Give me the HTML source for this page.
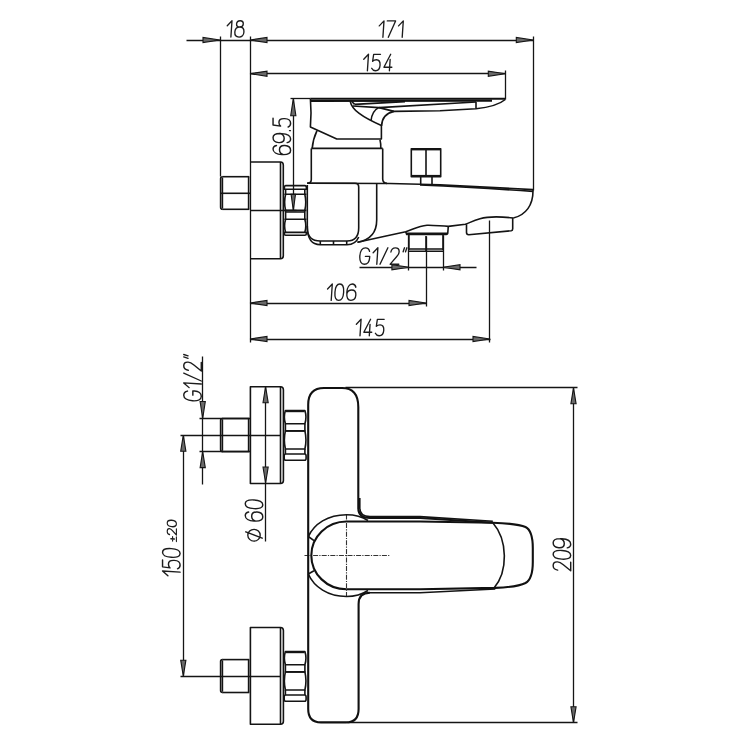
<!DOCTYPE html>
<html><head><meta charset="utf-8"><style>html,body{margin:0;padding:0;background:#fff;width:750px;height:750px;overflow:hidden}svg{display:block}</style></head><body>
<svg width="750" height="750" viewBox="0 0 750 750">
<rect width="750" height="750" fill="#fff"/>
<g fill="none" stroke="#151515" stroke-width="1.3">
<path d="M186.5,40.5 H533.5"/>
<path d="M250.5,73.5 H505.5"/>
<path d="M220.5,36.5 V176.5"/>
<path d="M250.5,36.5 V342.5"/>
<path d="M533.5,36.5 V190.5"/>
<path d="M505.5,70.5 V99.5"/>
<path d="M290.5,98.5 H310.5"/>
<path d="M293.5,98.5 V210.5"/>
<path d="M250.5,303.5 H426.5"/>
<path d="M426.5,236.5 V306.5"/>
<path d="M250.5,339.5 H490.5"/>
<path d="M489.5,220.5 V342.5"/>
<path d="M359.5,267.5 H476.5"/>
<path d="M408.5,235.5 V270.5"/>
<path d="M443.5,235.5 V270.5"/>
<path d="M250.5,210.5 H296.5"/>
<path d="M202.5,356.5 V484.5"/>
<path d="M199.5,418.5 H250.5"/>
<path d="M199.5,451.5 H250.5"/>
<path d="M180.5,435.5 H280.5"/>
<path d="M183.5,435.5 V676.5"/>
<path d="M180.5,676.5 H280.5"/>
<path d="M265.5,386.5 V541.5"/>
<path d="M345.5,387.5 H577.5"/>
<path d="M347.5,722.5 H577.5"/>
<path d="M573.5,387.5 V722.5"/>
</g>
<g fill="none" stroke="#333" stroke-width="1.1" stroke-dasharray="5,1.2,1.2,1.2">
<path d="M304.5,555.5 H389.5"/>
<path d="M346.5,514.5 V596.5"/>
</g>
<g fill="none" stroke="#141414" stroke-width="1.6" stroke-linejoin="round">
<path d="M222.3,176.7 H249.3"/>
<path d="M222.3,209.29999999999998 H249.3"/>
<path d="M222.6,176.7 Q220.6,176.7 220.6,178.7 V207.29999999999998 Q220.6,209.29999999999998 222.6,209.29999999999998"/>
<path d="M222.4,177.5 V208.49999999999997"/>
<path d="M248.6,176.7 V209.29999999999998"/>
<path d="M220.7,193.3 H250"/>
<path d="M250,162 H280.5 Q283.3,162 283.3,165 V255.7 Q283.3,258.7 280.5,258.7 H250"/>
<path d="M280.5,162 V258.7"/>
<path d="M285.6,185.6 H304.8 Q306.4,185.6 306.4,187.4 V189.2 H284.4 V187.4 Q284.4,185.6 285.6,185.6 Z"/>
<path d="M285.6,189.2 V194.2 M304.8,189.2 V194.2"/>
<path d="M284.4,194.2 H306.4 M284.4,210.4 H306.4"/>
<path d="M285.6,194.2 Q283.6,202.3 285.6,210.4 M304.8,194.2 Q306.8,202.3 304.8,210.4"/>
<path d="M285.6,210.4 V219.2 M304.8,210.4 V219.2"/>
<path d="M285.6,212.0 H304.8 M284.4,219.2 H306.4"/>
<path d="M285.6,219.2 Q283.6,225.79999999999998 285.6,232.39999999999998 M304.8,219.2 Q306.8,225.79999999999998 304.8,232.39999999999998"/>
<path d="M284.4,232.39999999999998 H306.4 V233.7 Q306.4,235.2 304.8,235.2 H285.6 Q284.4,235.2 284.4,233.7 Z"/>
<path d="M310.4,98.7 C311.2,108 311.2,118 310.4,126.9 L336.8,139 H381.4 V125.6"/>
<path d="M350.2,101.3 C352,110 362,117 381.4,125.6"/>
<path d="M351.8,101.5 L354.6,104.4"/>
<path d="M354.6,104.4 L405,101.6"/>
<path d="M353,106 L379,107.6 L476,102"/>
<path d="M379,107.6 L394,111.4 L440,110.7 L476,108.7 Q497,106.5 505.3,99.5"/>
<path d="M476,102 V108.7"/>
<path d="M371,120.8 Q372,111 378.6,107.6"/>
<path d="M381.6,126 Q382,114 394,111.4"/>
<path d="M317,130.6 Q313,139 312.2,148.4"/>
<path d="M380,139.8 Q381,144 380.8,148.4"/>
<path d="M311.3,148.4 H382.7"/>
<path d="M311.3,148.4 V179.5 Q311.3,183.2 307.2,183.2"/>
<path d="M382.7,148.4 V179 Q382.7,183.2 387,183.4"/>
<path d="M411.3,148.7 H440.7 V176.7 H411.3 Z"/>
<path d="M412,149.6 H440"/>
<path d="M426,148.7 V176.7"/>
<path d="M420.7,176.7 V184.2"/>
<path d="M432,176.7 V184.4"/>
<path d="M307.2,183.2 L390,183.5 L440,184.7 L533,189.6"/>
<path d="M420,184.9 Q480,187.6 533,191.4"/>
<path d="M412,175.7 H440"/>
<path d="M533,189.6 V191 C533,205 526,215 513.3,218"/>
<path d="M513.3,218 C500,216.5 488,216.5 480,218.7 C474,220.5 470,222.5 465.4,224.3 L448.3,226.4 C440,226 432,225 427,225.3 C418,226 412,230 405.7,231.7 C390,235 372,239 357.5,242.3"/>
<path d="M307.2,183.2 H355 Q358.7,183.2 358.7,187 V228 C358.7,237.5 354,241 347,241 H320.3 C312,241 307.3,237 307.3,228 V185"/>
<path d="M307.3,226 C307.3,240 312,244.7 320.3,244.7 H347 C353,244.7 356.5,242.5 358.7,237"/>
<path d="M320.3,241 V244.7 M333.5,241 V244.7 M346.7,241 V244.7"/>
<path d="M376.7,183.3 V220 C376.7,232 370,240 357.5,242.3"/>
<path d="M405.7,231.7 L406.7,234.4 H446.2 Q447.8,234.4 447.8,232.5 L448.3,226.4"/>
<path d="M407,233.2 H447"/>
<path d="M408.9,235 V250 M443,235 V250"/>
<path d="M408.9,249 H443 M408.9,251.3 H443"/>
<path d="M426,236 V252"/>
<path d="M466.5,224.3 V232.5 Q466.5,234.7 468.7,234.7 L511.3,230.7 Q512.7,230.5 512.7,228.7 V218"/>
<path d="M222.3,418.5 H249.3"/>
<path d="M222.3,451.6 H249.3"/>
<path d="M222.6,418.5 Q220.6,418.5 220.6,420.5 V449.6 Q220.6,451.6 222.6,451.6"/>
<path d="M222.4,419.3 V450.8"/>
<path d="M248.6,418.5 V451.6"/>
<path d="M222.3,659.6 H249.3"/>
<path d="M222.3,692.5 H249.3"/>
<path d="M222.6,659.6 Q220.6,659.6 220.6,661.6 V690.5 Q220.6,692.5 222.6,692.5"/>
<path d="M222.4,660.4 V691.7"/>
<path d="M248.6,659.6 V692.5"/>
<path d="M250.4,386.7 H280.5 Q283.4,386.7 283.4,389.7 V480.5 Q283.4,483.5 280.5,483.5 H250.4 Z"/>
<path d="M280.5,386.7 V483.5"/>
<path d="M250.4,627.5 H280.5 Q283.4,627.5 283.4,630.5 V721.3 Q283.4,724.3 280.5,724.3 H250.4 Z"/>
<path d="M280.5,627.5 V724.3"/>
<path d="M285.4,410.6 H304.9 Q307.0,417.20000000000005 304.9,423.8 H285.4 Q283.3,417.20000000000005 285.4,410.6 Z"/>
<path d="M285.9,411.40000000000003 H304.4"/>
<path d="M285.4,423.8 V430.90000000000003 H304.9 V423.8"/>
<path d="M285.4,430.90000000000003 H304.9 Q307.0,439.95000000000005 304.9,449.0 H285.4 Q283.3,439.95000000000005 285.4,430.90000000000003 Z"/>
<path d="M285.4,449.0 V454.0 M304.9,449.0 V454.0"/>
<path d="M285.7,454.0 H304.6 Q306.1,454.0 306.1,456.0 V458.20000000000005 Q306.1,460.20000000000005 304.6,460.20000000000005 H285.7 Q284.2,460.20000000000005 284.2,458.20000000000005 V456.0 Q284.2,454.0 285.7,454.0 Z"/>
<path d="M285.4,651.6 H304.9 Q307.0,658.2 304.9,664.8000000000001 H285.4 Q283.3,658.2 285.4,651.6 Z"/>
<path d="M285.9,652.4 H304.4"/>
<path d="M285.4,664.8000000000001 V671.9 H304.9 V664.8000000000001"/>
<path d="M285.4,671.9 H304.9 Q307.0,680.95 304.9,690.0 H285.4 Q283.3,680.95 285.4,671.9 Z"/>
<path d="M285.4,690.0 V695.0 M304.9,690.0 V695.0"/>
<path d="M285.7,695.0 H304.6 Q306.1,695.0 306.1,697.0 V699.2 Q306.1,701.2 304.6,701.2 H285.7 Q284.2,701.2 284.2,699.2 V697.0 Q284.2,695.0 285.7,695.0 Z"/>
<path d="M359.8,498 V508 Q359.8,516.6 370,516.6 H420 L492.8,521.2"/>
<path d="M492.8,522.7 C508,540 508,572 494,588"/>
<path d="M308.3,536.7 C314,524 328,514.7 346.5,514.7 C356,514.7 362,516.5 368,520.5"/>
<path d="M308.3,574 C314,587 328,596.5 346.5,596.5 C356,596.5 362,594.5 368,590.5"/>
<path d="M308.3,536.5 L314,540.7"/>
<path d="M308.3,574 L314,570.7"/>
<path d="M370,592.7 H420 L495.3,589"/>
</g>
<g fill="none" stroke="#111" stroke-width="2.1" stroke-linejoin="round">
<path d="M310.4,98.8 H505.3"/>
<path d="M311,101 L492,100.6"/>
<path d="M308.2,709 V404.7 Q308.2,388 324,388 H342 Q358.3,388 358.3,407 V508 Q358.3,518 370,518 H420 L492.8,522.7"/>
<path d="M358.6,709 V604 Q358.6,592.7 370,592.7"/>
<path d="M308.2,709 Q308.2,722.4 321,722.4 H346 Q358.6,722.4 358.6,709"/>
<path d="M346.5,521.5 H420 L492.8,522.7 C511,523.4 520,524.5 525.5,527 C531,529.8 532.8,537 532.8,548 V562 C532.8,573 531,580 525.5,583 C520,585.8 510,587.3 495.3,587.9 L420,589.3 H346.5"/>
<path d="M346.5,521.5 A35.2,33.9 0 0 0 346.5,589.3"/>
</g>
<g fill="#6a6a6a" stroke="#151515" stroke-width="1.1" stroke-linejoin="miter">
<path d="M220,40 L203,37.4 L203,42.6 Z"/>
<path d="M250,40 L267,37.4 L267,42.6 Z"/>
<path d="M533.3,40 L516.3,37.4 L516.3,42.6 Z"/>
<path d="M250,73.7 L267,71.10000000000001 L267,76.3 Z"/>
<path d="M505.3,73.7 L488.3,71.10000000000001 L488.3,76.3 Z"/>
<path d="M293.3,98.7 L290.7,115.7 L295.90000000000003,115.7 Z"/>
<path d="M293.3,210.4 L291.1,194.4 L295.5,194.4 Z"/>
<path d="M250,303 L267,300.4 L267,305.6 Z"/>
<path d="M426,303 L409,300.4 L409,305.6 Z"/>
<path d="M250,339 L267,336.4 L267,341.6 Z"/>
<path d="M490,339 L473,336.4 L473,341.6 Z"/>
<path d="M408.9,267.3 L391.9,264.7 L391.9,269.90000000000003 Z"/>
<path d="M443,267.3 L460,264.7 L460,269.90000000000003 Z"/>
<path d="M202.7,418.5 L200.1,401.5 L205.29999999999998,401.5 Z"/>
<path d="M202.7,451.6 L200.1,467.6 L205.29999999999998,467.6 Z"/>
<path d="M183.3,435.2 L180.70000000000002,451.2 L185.9,451.2 Z"/>
<path d="M183.3,676.2 L180.70000000000002,660.2 L185.9,660.2 Z"/>
<path d="M265.6,386.7 L263.0,402.7 L268.20000000000005,402.7 Z"/>
<path d="M265.6,483 L263.0,467 L268.20000000000005,467 Z"/>
<path d="M573.5,387.8 L570.9,403.8 L576.1,403.8 Z"/>
<path d="M573.5,722.7 L570.9,706.7 L576.1,706.7 Z"/>
</g>
<g transform="translate(226.5,37.1) scale(1.0,1.0) skewX(-3.8)" fill="none" stroke="#1c1c1c" stroke-width="1.35" stroke-linecap="round" stroke-linejoin="round"><path transform="translate(0.00,0)" d="M0,-11.4 L4.4,-16.4 V0"/><path transform="translate(8.00,0)" d="M4.55,-16.4 C6.5,-16.4 7.9,-15.1 7.9,-13.2 C7.9,-11.3 6.5,-10.1 4.55,-10.1 C2.6,-10.1 1.2,-11.3 1.2,-13.2 C1.2,-15.1 2.6,-16.4 4.55,-16.4 Z M4.55,-10.1 C7.3,-10.1 9.1,-8.1 9.1,-5.05 C9.1,-2 7.3,0 4.55,0 C1.8,0 0,-2 0,-5.05 C0,-8.1 1.8,-10.1 4.55,-10.1 Z"/></g>
<g transform="translate(378.5,37.3) scale(1.0,1.0) skewX(-3.8)" fill="none" stroke="#1c1c1c" stroke-width="1.35" stroke-linecap="round" stroke-linejoin="round"><path transform="translate(0.00,0)" d="M0,-11.4 L4.4,-16.4 V0"/><path transform="translate(7.70,0)" d="M0,-16.4 H8.3 L2.1,0"/><path transform="translate(19.30,0)" d="M0,-11.4 L4.4,-16.4 V0"/></g>
<g transform="translate(363,70.7) scale(1.0,1.0) skewX(-3.8)" fill="none" stroke="#1c1c1c" stroke-width="1.35" stroke-linecap="round" stroke-linejoin="round"><path transform="translate(0.00,0)" d="M0,-11.4 L4.4,-16.4 V0"/><path transform="translate(8.40,0)" d="M8,-16.4 H1.2 L0.6,-9.4 C1.6,-10.5 2.9,-10.9 4.2,-10.9 C6.8,-10.9 8.3,-8.9 8.3,-5.5 C8.3,-2.1 6.7,0 4.1,0 C2.4,0 1,-0.7 0.1,-2.4"/><path transform="translate(20.70,0)" d="M5.9,-16.4 L0,-3.5 H7.9 M5.7,-11.2 V0"/></g>
<g transform="translate(326.8,300.4) scale(1.0,1.0) skewX(-3.8)" fill="none" stroke="#1c1c1c" stroke-width="1.35" stroke-linecap="round" stroke-linejoin="round"><path transform="translate(0.00,0)" d="M0,-11.4 L4.4,-16.4 V0"/><path transform="translate(7.60,0)" d="M4.35,-16.4 C7.3,-16.4 8.7,-13.2 8.7,-8.2 C8.7,-3.2 7.3,0 4.35,0 C1.4,0 0,-3.2 0,-8.2 C0,-13.2 1.4,-16.4 4.35,-16.4 Z"/><path transform="translate(19.50,0)" d="M8.7,-13.2 C8.1,-15.3 6.7,-16.4 4.9,-16.4 C1.9,-16.4 0,-13.2 0,-8.2 C0,-2.8 1.8,0 4.6,0 C7.4,0 9.2,-2.2 9.2,-5.3 C9.2,-8.3 7.4,-10.4 4.7,-10.4 C2.4,-10.4 0.6,-8.8 0.1,-6.6"/></g>
<g transform="translate(355.6,335.7) scale(1.0,1.0) skewX(-3.8)" fill="none" stroke="#1c1c1c" stroke-width="1.35" stroke-linecap="round" stroke-linejoin="round"><path transform="translate(0.00,0)" d="M0,-11.4 L4.4,-16.4 V0"/><path transform="translate(8.00,0)" d="M5.9,-16.4 L0,-3.5 H7.9 M5.7,-11.2 V0"/><path transform="translate(19.50,0)" d="M8,-16.4 H1.2 L0.6,-9.4 C1.6,-10.5 2.9,-10.9 4.2,-10.9 C6.8,-10.9 8.3,-8.9 8.3,-5.5 C8.3,-2.1 6.7,0 4.1,0 C2.4,0 1,-0.7 0.1,-2.4"/></g>
<g transform="translate(359.3,264.2) scale(1.0,1.0) skewX(-3.8)" fill="none" stroke="#1c1c1c" stroke-width="1.35" stroke-linecap="round" stroke-linejoin="round"><path transform="translate(0.00,0)" d="M9.4,-12.9 C8.8,-15.2 7.2,-16.4 5,-16.4 C2,-16.4 0,-13.4 0,-8.2 C0,-3 2,0 5,0 C8,0 9.9,-2.6 9.9,-6.2 V-7.9 H5.6"/><path transform="translate(13.10,0)" d="M0,-11.4 L4.4,-16.4 V0"/><path transform="translate(20.70,0)" d="M0,0 L6.8,-16.4"/><path transform="translate(30.70,0)" d="M0.1,-12.2 C0.4,-14.9 2.1,-16.4 4.3,-16.4 C6.6,-16.4 8.3,-14.8 8.3,-12.3 C8.3,-10.3 7.2,-8.7 5.7,-6.9 L0.2,0 H8.8"/><path transform="translate(42.70,0)" d="M1.4,-16.4 L0.3,-12.4 M3.8,-16.4 L2.7,-12.4"/></g>
<g transform="translate(290.6,155.1) rotate(-90) scale(1.0,1.07) skewX(-3.8)" fill="none" stroke="#1c1c1c" stroke-width="1.35" stroke-linecap="round" stroke-linejoin="round"><path transform="translate(0.00,0)" d="M8.7,-13.2 C8.1,-15.3 6.7,-16.4 4.9,-16.4 C1.9,-16.4 0,-13.2 0,-8.2 C0,-2.8 1.8,0 4.6,0 C7.4,0 9.2,-2.2 9.2,-5.3 C9.2,-8.3 7.4,-10.4 4.7,-10.4 C2.4,-10.4 0.6,-8.8 0.1,-6.6"/><path transform="translate(11.80,0)" d="M0.5,-3.2 C1.1,-1.1 2.5,0 4.3,0 C7.3,0 9.2,-3.2 9.2,-8.2 C9.2,-13.6 7.4,-16.4 4.6,-16.4 C1.8,-16.4 0,-14.2 0,-11.1 C0,-8.1 1.8,-6 4.5,-6 C6.8,-6 8.6,-7.6 9.1,-9.8"/><path transform="translate(23.60,0)" d="M0.8,-1 L0.8,-0.2"/><path transform="translate(27.80,0)" d="M8,-16.4 H1.2 L0.6,-9.4 C1.6,-10.5 2.9,-10.9 4.2,-10.9 C6.8,-10.9 8.3,-8.9 8.3,-5.5 C8.3,-2.1 6.7,0 4.1,0 C2.4,0 1,-0.7 0.1,-2.4"/></g>
<g transform="translate(570.7,571) rotate(-90) scale(1.0,1.07) skewX(-3.8)" fill="none" stroke="#1c1c1c" stroke-width="1.35" stroke-linecap="round" stroke-linejoin="round"><path transform="translate(0.00,0)" d="M0.1,-12.2 C0.4,-14.9 2.1,-16.4 4.3,-16.4 C6.6,-16.4 8.3,-14.8 8.3,-12.3 C8.3,-10.3 7.2,-8.7 5.7,-6.9 L0.2,0 H8.8"/><path transform="translate(11.30,0)" d="M4.35,-16.4 C7.3,-16.4 8.7,-13.2 8.7,-8.2 C8.7,-3.2 7.3,0 4.35,0 C1.4,0 0,-3.2 0,-8.2 C0,-13.2 1.4,-16.4 4.35,-16.4 Z"/><path transform="translate(22.50,0)" d="M0.5,-3.2 C1.1,-1.1 2.5,0 4.3,0 C7.3,0 9.2,-3.2 9.2,-8.2 C9.2,-13.6 7.4,-16.4 4.6,-16.4 C1.8,-16.4 0,-14.2 0,-11.1 C0,-8.1 1.8,-6 4.5,-6 C6.8,-6 8.6,-7.6 9.1,-9.8"/></g>
<g transform="translate(262.8,521.6) rotate(-90) scale(1.0,1.07) skewX(-3.8)" fill="none" stroke="#1c1c1c" stroke-width="1.35" stroke-linecap="round" stroke-linejoin="round"><path transform="translate(0.00,0)" d="M8.7,-13.2 C8.1,-15.3 6.7,-16.4 4.9,-16.4 C1.9,-16.4 0,-13.2 0,-8.2 C0,-2.8 1.8,0 4.6,0 C7.4,0 9.2,-2.2 9.2,-5.3 C9.2,-8.3 7.4,-10.4 4.7,-10.4 C2.4,-10.4 0.6,-8.8 0.1,-6.6"/><path transform="translate(12.40,0)" d="M4.35,-16.4 C7.3,-16.4 8.7,-13.2 8.7,-8.2 C8.7,-3.2 7.3,0 4.35,0 C1.4,0 0,-3.2 0,-8.2 C0,-13.2 1.4,-16.4 4.35,-16.4 Z"/></g>
<g transform="translate(180.1,576.5) rotate(-90) scale(1.0,1.07) skewX(-3.8)" fill="none" stroke="#1c1c1c" stroke-width="1.35" stroke-linecap="round" stroke-linejoin="round"><path transform="translate(0.00,0)" d="M0,-11.4 L4.4,-16.4 V0"/><path transform="translate(7.40,0)" d="M8,-16.4 H1.2 L0.6,-9.4 C1.6,-10.5 2.9,-10.9 4.2,-10.9 C6.8,-10.9 8.3,-8.9 8.3,-5.5 C8.3,-2.1 6.7,0 4.1,0 C2.4,0 1,-0.7 0.1,-2.4"/><path transform="translate(18.70,0)" d="M4.35,-16.4 C7.3,-16.4 8.7,-13.2 8.7,-8.2 C8.7,-3.2 7.3,0 4.35,0 C1.4,0 0,-3.2 0,-8.2 C0,-13.2 1.4,-16.4 4.35,-16.4 Z"/></g>
<g transform="translate(176.4,541.4) rotate(-90) scale(0.72,0.56) skewX(-3.8)" fill="none" stroke="#1c1c1c" stroke-width="2.0161290322580645" stroke-linecap="round" stroke-linejoin="round"><path transform="translate(0.00,0)" d="M3,-10 V-3.5 M0,-6.8 H6 M0,0 H6"/><path transform="translate(8.60,0)" d="M0.1,-12.2 C0.4,-14.9 2.1,-16.4 4.3,-16.4 C6.6,-16.4 8.3,-14.8 8.3,-12.3 C8.3,-10.3 7.2,-8.7 5.7,-6.9 L0.2,0 H8.8"/><path transform="translate(20.00,0)" d="M4.35,-16.4 C7.3,-16.4 8.7,-13.2 8.7,-8.2 C8.7,-3.2 7.3,0 4.35,0 C1.4,0 0,-3.2 0,-8.2 C0,-13.2 1.4,-16.4 4.35,-16.4 Z"/></g>
<g transform="translate(201.3,401.3) rotate(-90) scale(1.0,1.07) skewX(-3.8)" fill="none" stroke="#1c1c1c" stroke-width="1.35" stroke-linecap="round" stroke-linejoin="round"><path transform="translate(0.00,0)" d="M9.4,-12.9 C8.8,-15.2 7.2,-16.4 5,-16.4 C2,-16.4 0,-13.4 0,-8.2 C0,-3 2,0 5,0 C8,0 9.9,-2.6 9.9,-6.2 V-7.9 H5.6"/><path transform="translate(12.90,0)" d="M0,-11.4 L4.4,-16.4 V0"/><path transform="translate(20.30,0)" d="M0,0 L6.8,-16.4"/><path transform="translate(30.10,0)" d="M0.1,-12.2 C0.4,-14.9 2.1,-16.4 4.3,-16.4 C6.6,-16.4 8.3,-14.8 8.3,-12.3 C8.3,-10.3 7.2,-8.7 5.7,-6.9 L0.2,0 H8.8"/><path transform="translate(41.90,0)" d="M1.4,-16.4 L0.3,-12.4 M3.8,-16.4 L2.7,-12.4"/></g>
<g fill="none" stroke="#1a1a1a" stroke-width="1.35"><ellipse cx="254" cy="535.2" rx="6.2" ry="5.9"/><path d="M245.2,531.6 L262.8,538.4"/></g>
</svg>
</body></html>
